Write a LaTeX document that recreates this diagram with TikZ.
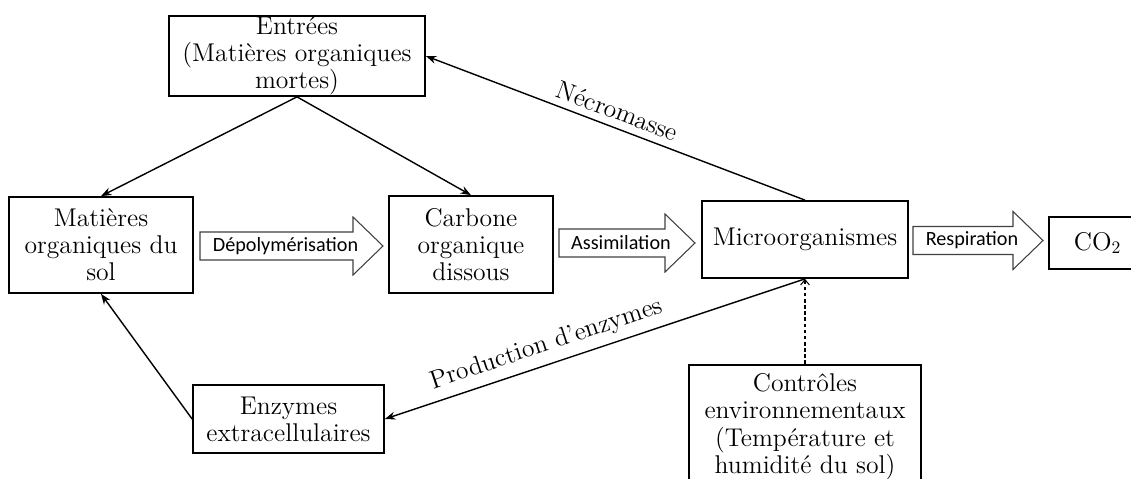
\documentclass[tikz,border=0pt]{standalone}
\usepackage{fontspec}
\newfontfamily\fluxfont{Carlito}
\usetikzlibrary{arrows.meta}

\tikzset{
	boite/.style={draw,line width=1pt,align=center,inner sep=0pt,
		font=\fontsize{14.6}{15.4}\selectfont},
	lien/.style={line width=0.8pt,-{Stealth[length=6pt,width=4.5pt]}},
	controle/.style={line width=0.6pt,dashed,dash pattern=on 2pt off 1.5pt,
		-{Straight Barb[length=3pt,width=5pt]}},
	etiquette/.style={font=\fontsize{14.6}{15.4}\selectfont,sloped,above=3pt,inner sep=1pt},
	fluxtrait/.style={draw=black!75,line width=0.6pt,fill=white},
	fluxtexte/.style={font=\fluxfont\fontsize{11.5}{13}\selectfont,inner sep=0pt}
}
% fleche large : nom, x depart, x pointe, y, texte
\newcommand{\flux}[5]{%
	\draw[fluxtrait] (#2,#4-14) -- (#3-30,#4-14) -- (#3-30,#4-29) -- (#3,#4)
		-- (#3-30,#4+29) -- (#3-30,#4+14) -- (#2,#4+14) -- cycle;
	\node[fluxtexte] (#1) at ({(#2+#3)/2-6},#4) {#5};}

\begin{document}
\begin{tikzpicture}[x=0.02cm,y=-0.02cm]
	\useasboundingbox (0,0) rectangle (1131,479);
	\clip (0,0) rectangle (1131,479);
	% boites
	\node[boite,minimum width=5.12cm,minimum height=1.60cm] (ent) at (297,56)
		{Entrées\\(Matières organiques\\mortes)};
	\node[boite,minimum width=3.68cm,minimum height=1.92cm] (mos) at (101,245)
		{Matières\\organiques du\\sol};
	\node[boite,minimum width=3.28cm,minimum height=1.94cm] (cod) at (471,244.5)
		{Carbone\\organique\\dissous};
	\node[boite,minimum width=4.12cm,minimum height=1.54cm] (mic) at (805,239.5)
		{Microorganismes};
	\node[boite,anchor=west,text width=1.6cm,align=left,inner xsep=0.5cm,
		minimum height=1.04cm] (co2) at (1048,243) {CO$_2$};
	\node[boite,minimum width=3.82cm,minimum height=1.36cm] (enz) at (288.5,419)
		{Enzymes\\extracellulaires};
	\node[boite,minimum width=4.64cm,inner ysep=0.18cm,anchor=north] (ctl) at (805,364)
		{Contrôles\\environnementaux\\(Température et\\humidité du sol)};
	% fleches larges
	\flux{depol}{200}{383}{246}{Dépolymérisation}
	\flux{assim}{559}{695}{243}{Assimilation}
	\flux{resp}{913}{1043}{240.5}{Respiration}
	% liens
	\draw[lien] (ent.south) -- (mos.north);
	\draw[lien] (ent.south) -- (cod.north);
	\draw[lien,{Stealth[length=6pt,width=4.5pt]}-] (ent.east) -- node[etiquette,pos=0.49] {Nécromasse} (mic.north);
	\draw[lien,{Stealth[length=6pt,width=4.5pt]}-] (enz.east) -- node[etiquette,pos=0.4] {Production d’enzymes} (mic.south);
	\draw[lien] (enz.west) -- (mos.south);
	\draw[controle] (ctl.north) -- (mic.south);
\end{tikzpicture}
\end{document}
